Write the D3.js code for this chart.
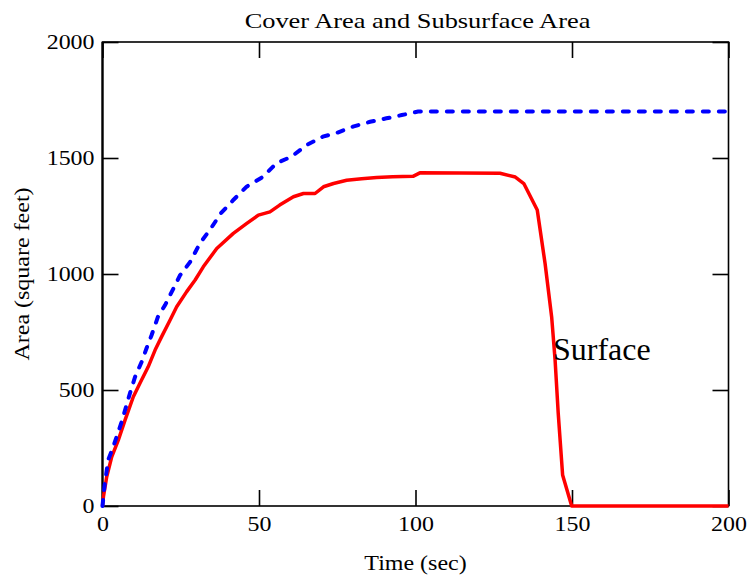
<!DOCTYPE html>
<html>
<head>
<meta charset="utf-8">
<script src="https://cdn.jsdelivr.net/npm/d3@7"></script>
<style>
  html, body { margin: 0; padding: 0; background: #fff; }
  svg { display: block; }
  text { font-family: "Liberation Serif", "Times New Roman", Times, serif; fill: #000; }
</style>
</head>
<body>
<svg id="chart" width="752" height="580"></svg>
<script>
// Cover area (dashed blue) over time
const coverTime = [0, 0.6, 1.8, 3.4, 6.1, 8.8, 10.4, 12.5, 14.1, 15.7, 17.7, 20, 24.8, 28, 31.2, 34.3,
  37.9, 41.8, 46, 51.3, 55.6, 60.4, 65.2, 70.4, 74.8, 80, 85.5, 90.7, 95.6, 100.8, 200];
const coverArea = [0, 82, 198, 254, 362, 487, 556, 621, 681, 737, 815, 866, 995, 1052, 1134, 1190,
  1263, 1319, 1376, 1419, 1478, 1506, 1556, 1592, 1608, 1635, 1656, 1671, 1685, 1700, 1700];

// Surface area (solid red) over time
const surfaceTime = [0, 0.3, 1.35, 2.95, 5.05, 7.2, 9.85, 12, 14.6, 16.8, 18.9, 21.6, 23.7, 26.9, 29.6,
  32.2, 36.5, 41.8, 46.1, 49.8, 53.5, 56.6, 61, 64.2, 67.9, 70.6, 73.8, 78, 82.8, 87.6, 92.7, 99.2,
  101.4, 127, 131.9, 134.6, 138.9, 141.4, 143.5, 144.6, 145.6, 147, 149.9, 200];
const surfaceArea = [0, 40, 126, 212, 284, 370, 471, 530, 600, 672, 730, 802, 859, 924, 974,
  1031, 1110, 1175, 1218, 1254, 1268, 1297, 1333, 1347, 1347, 1376, 1390, 1404, 1411, 1416, 1419, 1421,
  1436, 1434, 1418, 1390, 1276, 1045, 815, 629, 399, 134, 0, 0];

const xTicks = [0, 50, 100, 150, 200];
const yTicks = [0, 500, 1000, 1500, 2000];

const titleText = "Cover Area and Subsurface Area";
const xLabelText = "Time (sec)";
const yLabelText = "Area (square feet)";
const seriesLabel = "Surface";

const svg = d3.select("#chart");
const margin = { left: 102.5, right: 752 - 728.5, top: 42, bottom: 580 - 506 };
const W = 752, H = 580;
const innerW = W - margin.left - margin.right;
const innerH = H - margin.top - margin.bottom;

const x = d3.scaleLinear().domain([0, 200]).range([margin.left, margin.left + innerW]);
const y = d3.scaleLinear().domain([0, 2000]).range([margin.top + innerH, margin.top]);

const stretch = 1.2;
const tickStretch = 1.14;
const tickLen = 16;

// frame
svg.append("rect")
  .attr("x", x(0)).attr("y", y(2000))
  .attr("width", x(200) - x(0)).attr("height", y(0) - y(2000))
  .attr("fill", "none").attr("stroke", "#000").attr("stroke-width", 1.6);

function styleAxis(g, showLabels) {
  g.select(".domain").remove();
  g.selectAll(".tick line").attr("stroke", "#000").attr("stroke-width", 1.6);
  if (!showLabels) g.selectAll(".tick text").remove();
  g.selectAll(".tick text").attr("font-size", 21).attr("fill", "#000");
}

const gL = svg.append("g").attr("transform", `translate(${x(0)},0)`)
  .call(d3.axisLeft(y).tickValues(yTicks).tickSize(-tickLen).tickPadding(8).tickFormat(d3.format("d")));
styleAxis(gL, true);
gL.selectAll(".tick text").attr("transform", `scale(${tickStretch},1)`).attr("x", -8 / tickStretch);

const gR = svg.append("g").attr("transform", `translate(${x(200)},0)`)
  .call(d3.axisRight(y).tickValues(yTicks).tickSize(-tickLen));
styleAxis(gR, false);

const gT = svg.append("g").attr("transform", `translate(0,${y(2000)})`)
  .call(d3.axisTop(x).tickValues(xTicks).tickSize(-tickLen));
styleAxis(gT, false);

const gB = svg.append("g").attr("transform", `translate(0,${y(0)})`)
  .call(d3.axisBottom(x).tickValues(xTicks).tickSize(-tickLen).tickPadding(10).tickFormat(d3.format("d")));
styleAxis(gB, true);
gB.selectAll(".tick text").attr("transform", `scale(${tickStretch},1)`);

// left edge drawn a little heavier
svg.append("line")
  .attr("x1", x(0)).attr("x2", x(0)).attr("y1", y(0)).attr("y2", y(2000))
  .attr("stroke", "#000").attr("stroke-width", 2.2);

// titles
svg.append("text")
  .attr("transform", `translate(${(x(0) + x(200)) / 2 + 2},28) scale(${stretch},1)`)
  .attr("text-anchor", "middle").attr("font-size", 22).text(titleText);

svg.append("text")
  .attr("transform", `translate(${(x(0) + x(200)) / 2},570) scale(${stretch},1)`)
  .attr("text-anchor", "middle").attr("font-size", 20).text(xLabelText);

svg.append("text")
  .attr("transform", `translate(29,${(y(0) + y(2000)) / 2}) rotate(-90) scale(${stretch},1)`)
  .attr("text-anchor", "middle").attr("font-size", 20).text(yLabelText);

// series
const line = d3.line().x(d => x(d[0])).y(d => y(d[1]));

svg.append("path")
  .datum(d3.zip(surfaceTime, surfaceArea))
  .attr("d", line)
  .attr("fill", "none").attr("stroke", "#ff0000").attr("stroke-width", 3.5)
  .attr("stroke-linejoin", "round");

svg.append("path")
  .datum(d3.zip(coverTime, coverArea))
  .attr("d", line)
  .attr("fill", "none").attr("stroke", "#0000ff").attr("stroke-width", 4)
  .attr("stroke-dasharray", "6,10").attr("stroke-linecap", "round");

svg.append("text")
  .attr("x", 553).attr("y", 360)
  .attr("font-size", 32).text(seriesLabel);
</script>
</body>
</html>
